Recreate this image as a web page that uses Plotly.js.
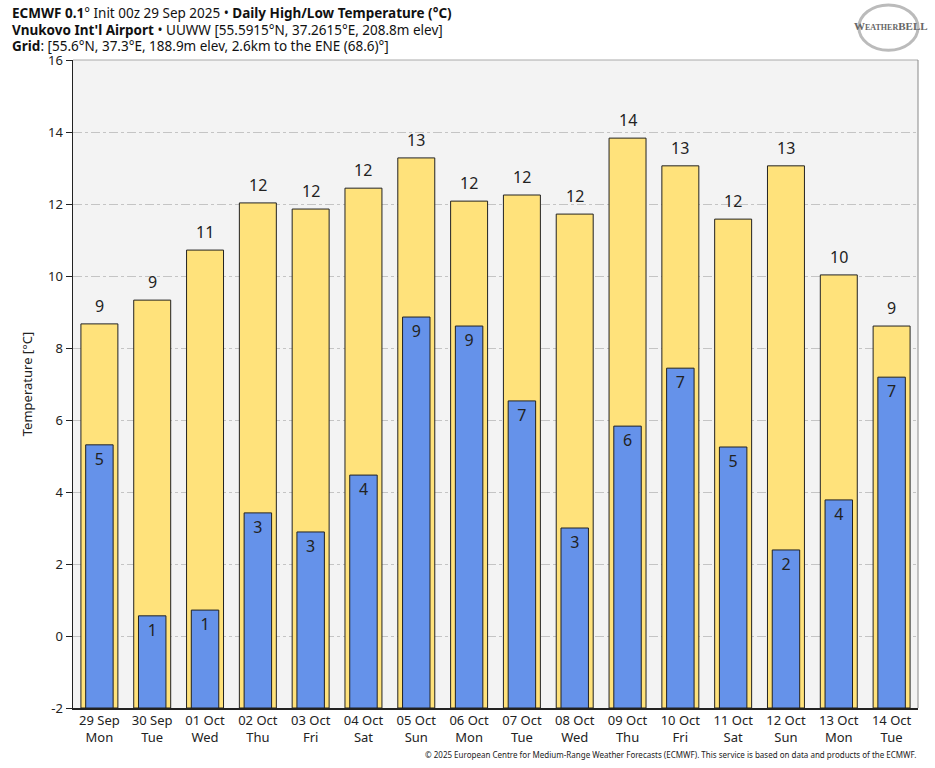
<!DOCTYPE html>
<html><head><meta charset="utf-8">
<script src="https://cdn.plot.ly/plotly-3.0.1.min.js"></script>
<style>html,body{margin:0;padding:0;background:#fff}#chart{width:935px;height:768px}</style>
</head><body><div id="chart"></div>
<script>
const dates = ["29 Sep","30 Sep","01 Oct","02 Oct","03 Oct","04 Oct","05 Oct","06 Oct","07 Oct","08 Oct","09 Oct","10 Oct","11 Oct","12 Oct","13 Oct","14 Oct"];
const weekdays = ["Mon","Tue","Wed","Thu","Fri","Sat","Sun","Mon","Tue","Wed","Thu","Fri","Sat","Sun","Mon","Tue"];
const highs = [8.67,9.33,10.72,12.03,11.86,12.44,13.28,12.08,12.25,11.72,13.83,13.06,11.58,13.06,10.03,8.61];
const lows = [5.31,0.56,0.72,3.42,2.89,4.47,8.86,8.61,6.53,3.00,5.83,7.44,5.25,2.39,3.78,7.19];
const yTicks = [-2,0,2,4,6,8,10,12,14,16];
const baseVal = -2;

const cats = dates.map((d,i)=>d+"<br>"+weekdays[i]);
const font = "Noto Sans, Open Sans, DejaVu Sans, sans-serif";

const traces = [
  {type:"bar", x:cats, y:highs.map(v=>v-baseVal), base:baseVal, width:0.7,
   marker:{color:"#ffe27b", line:{color:"#222", width:1}},
   hoverinfo:"skip", showlegend:false},
  {type:"bar", x:cats, y:lows.map(v=>v-baseVal), base:baseVal, width:0.52,
   marker:{color:"#6592ea", line:{color:"#222", width:1}},
   text:lows.map(v=>String(Math.round(v))), textposition:"inside", insidetextanchor:"end",
   constraintext:"none",
   textfont:{size:16, color:"#222", family:font},
   hoverinfo:"skip", showlegend:false}
];

const highLabels = highs.map((v,i)=>({
  x:cats[i], y:v, xref:"x", yref:"y", yanchor:"bottom", yshift:5, showarrow:false,
  text:String(Math.round(v)), font:{size:16, color:"#222", family:font}
}));

const layout = {
  width:935, height:768,
  margin:{l:73, r:17, t:60, b:60},
  paper_bgcolor:"#ffffff", plot_bgcolor:"#f3f3f3",
  barmode:"overlay",
  font:{family:font, color:"#222", size:13},
  xaxis:{type:"category", range:[-0.5,15.5], showgrid:false, ticks:"",
         showline:true, linecolor:"#222", linewidth:1.5, tickfont:{size:13, color:"#222"}, fixedrange:true},
  yaxis:{range:[-2,16], tickvals:yTicks, ticktext:yTicks.map(String), ticks:"outside", ticklen:6, tickcolor:"#222",
         showline:true, linecolor:"#222", linewidth:1.5, zeroline:false,
         showgrid:true, gridcolor:"#c4c4c4", griddash:"dashdot", gridwidth:1,
         tickfont:{size:13, color:"#222"},
         title:{text:"Temperature [°C]", font:{size:13, color:"#222"}, standoff:12}},
  shapes:[
    {type:"line", xref:"paper", yref:"paper", x0:0, x1:1, y0:1, y1:1, line:{color:"#aaa", width:1}},
    {type:"line", xref:"paper", yref:"paper", x0:1, x1:1, y0:0, y1:1, line:{color:"#888", width:1}},
    {type:"circle", xref:"paper", yref:"paper", x0:0.93, x1:1.0, y0:1.015, y1:1.085, line:{color:"#bbb", width:3}, fillcolor:"rgba(0,0,0,0)", layer:"above"}
  ],
  annotations:highLabels.concat([
    {xref:"paper", yref:"paper", x:-0.0746, y:1.0725, xanchor:"left", yanchor:"middle", showarrow:false, align:"left",
     text:"<b>ECMWF 0.1</b>° Init 00z 29 Sep 2025 • <b>Daily High/Low Temperature (°C)</b>", font:{size:13.5, color:"#111"}},
    {xref:"paper", yref:"paper", x:-0.0746, y:1.0463, xanchor:"left", yanchor:"middle", showarrow:false, align:"left",
     text:"<b>Vnukovo Int'l Airport</b> • UUWW [55.5915°N, 37.2615°E, 208.8m elev]", font:{size:13.5, color:"#111"}},
    {xref:"paper", yref:"paper", x:-0.0746, y:1.0216, xanchor:"left", yanchor:"middle", showarrow:false, align:"left",
     text:"<b>Grid</b>: [55.6°N, 37.3°E, 188.9m elev, 2.6km to the ENE (68.6)°]", font:{size:13.5, color:"#111"}},
    {xref:"paper", yref:"paper", x:0.968, y:1.052, xanchor:"center", yanchor:"middle", showarrow:false,
     text:"<b>W<span style='font-size:8px'>EATHER</span>BELL</b>", font:{size:11, color:"#666", family:"Liberation Serif, serif"}},
    {xref:"paper", yref:"paper", x:1.0, y:-0.072, xanchor:"right", yanchor:"middle", showarrow:false,
     text:"© 2025 European Centre for Medium-Range Weather Forecasts (ECMWF). This service is based on data and products of the ECMWF.",
     font:{size:8, color:"#222"}}
  ])
};
Plotly.newPlot("chart", traces, layout, {displayModeBar:false, staticPlot:true});
</script></body></html>
